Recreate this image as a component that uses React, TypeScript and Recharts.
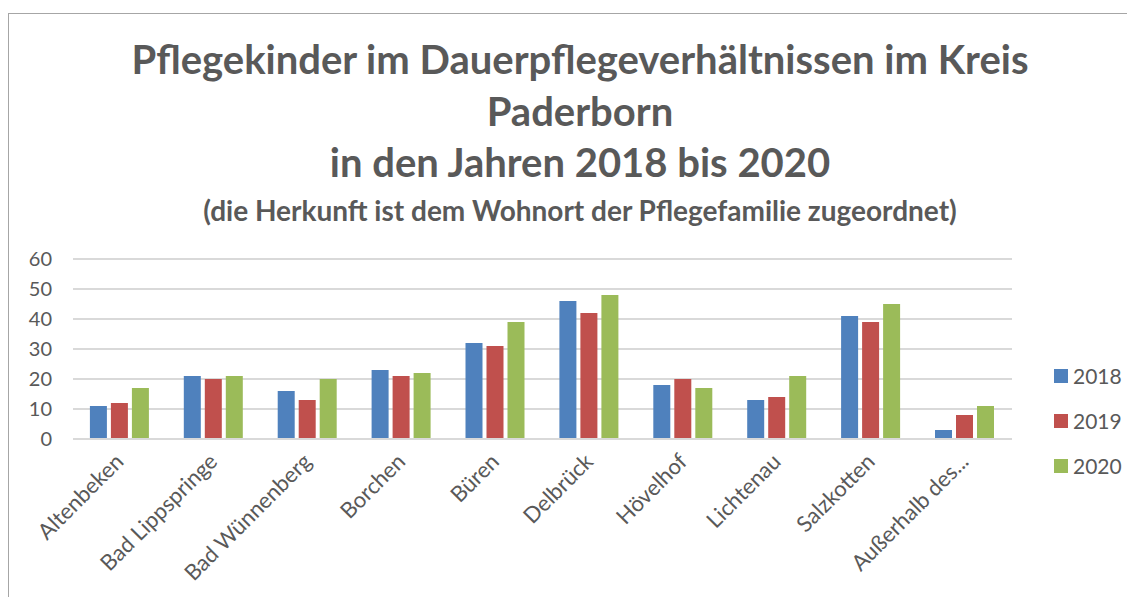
import React from 'react';
import { BarChart, Bar, XAxis, YAxis, CartesianGrid, Legend } from 'recharts';

const places = [
  'Altenbeken',
  'Bad Lippspringe',
  'Bad Wünnenberg',
  'Borchen',
  'Büren',
  'Delbrück',
  'Hövelhof',
  'Lichtenau',
  'Salzkotten',
  'Außerhalb des...',
];
const y2018 = [11, 21, 16, 23, 32, 46, 18, 13, 41, 3];
const y2019 = [12, 20, 13, 21, 31, 42, 20, 14, 39, 8];
const y2020 = [17, 21, 20, 22, 39, 48, 17, 21, 45, 11];
const yTicks = [0, 10, 20, 30, 40, 50, 60];

const series = [
  { key: '2018', color: '#4F81BD' },
  { key: '2019', color: '#C0504D' },
  { key: '2020', color: '#9BBB59' },
];

const data = places.map((name, i) => ({
  name,
  '2018': y2018[i],
  '2019': y2019[i],
  '2020': y2020[i],
}));

const FONT = 'Lato, "Open Sans", sans-serif';
const GREY = '#595959';

function AngledTick(props: any) {
  const { x, y, payload } = props;
  const ax = x + 5;
  const ay = y + 16;
  return (
    <text
      x={ax}
      y={ay}
      transform={`rotate(-45, ${ax}, ${ay})`}
      textAnchor="end"
      fill={GREY}
      fontSize={22}
      fontFamily={FONT}
    >
      {payload.value}
    </text>
  );
}

function SideLegend(props: any) {
  const { payload } = props;
  return (
    <div style={{ fontFamily: FONT }}>
      {(payload || []).map((p: any) => (
        <div key={p.value} style={{ display: 'flex', alignItems: 'center', height: 45 }}>
          <span style={{ width: 14, height: 14, background: p.color, marginRight: 5 }} />
          <span style={{ fontSize: 21, color: GREY }}>{p.value}</span>
        </div>
      ))}
    </div>
  );
}

export default function App() {
  return (
    <div style={{ position: 'relative', width: 1135, height: 605, margin: -8, background: '#fff', overflow: 'hidden' }}>
      <div
        style={{
          position: 'absolute',
          left: 8,
          top: 13,
          width: 1200,
          height: 700,
          border: '1.5px solid #A6A6A6',
        }}
      />
      <div
        style={{
          position: 'absolute',
          left: 0,
          top: 34,
          width: 1160,
          textAlign: 'center',
          fontFamily: FONT,
          fontWeight: 700,
          color: GREY,
          fontSize: 40,
          lineHeight: '51px',
        }}
      >
        <div>Pflegekinder im Dauerpflegeverhältnissen im Kreis</div>
        <div style={{ marginTop: 1 }}>Paderborn</div>
        <div>in den Jahren 2018 bis 2020</div>
        <div style={{ fontSize: 28, lineHeight: '44px' }}>
          (die Herkunft ist dem Wohnort der Pflegefamilie zugeordnet)
        </div>
      </div>
      <div style={{ position: 'absolute', left: 0, top: 240 }}>
        <BarChart
          width={1135}
          height={365}
          data={data}
          margin={{ top: 19, right: 43, left: 0, bottom: 16 }}
          barCategoryGap="18%"
          barGap={4}
        >
          <CartesianGrid vertical={false} stroke="#D9D9D9" strokeWidth={2} />
          <XAxis
            dataKey="name"
            interval={0}
            height={150}
            tick={<AngledTick />}
            tickLine={false}
            axisLine={{ stroke: '#D9D9D9', strokeWidth: 2 }}
          />
          <YAxis
            width={73}
            domain={[0, 60]}
            ticks={yTicks}
            axisLine={false}
            tickLine={false}
            tickMargin={15}
            tick={{ fill: GREY, fontSize: 20, fontFamily: FONT }}
          />
          <Legend
            layout="vertical"
            align="right"
            verticalAlign="top"
            content={<SideLegend />}
            wrapperStyle={{ left: 1054, top: 113, width: 80 }}
          />
          {series.map(s => (
            <Bar key={s.key} dataKey={s.key} fill={s.color} isAnimationActive={false} />
          ))}
        </BarChart>
      </div>
    </div>
  );
}
